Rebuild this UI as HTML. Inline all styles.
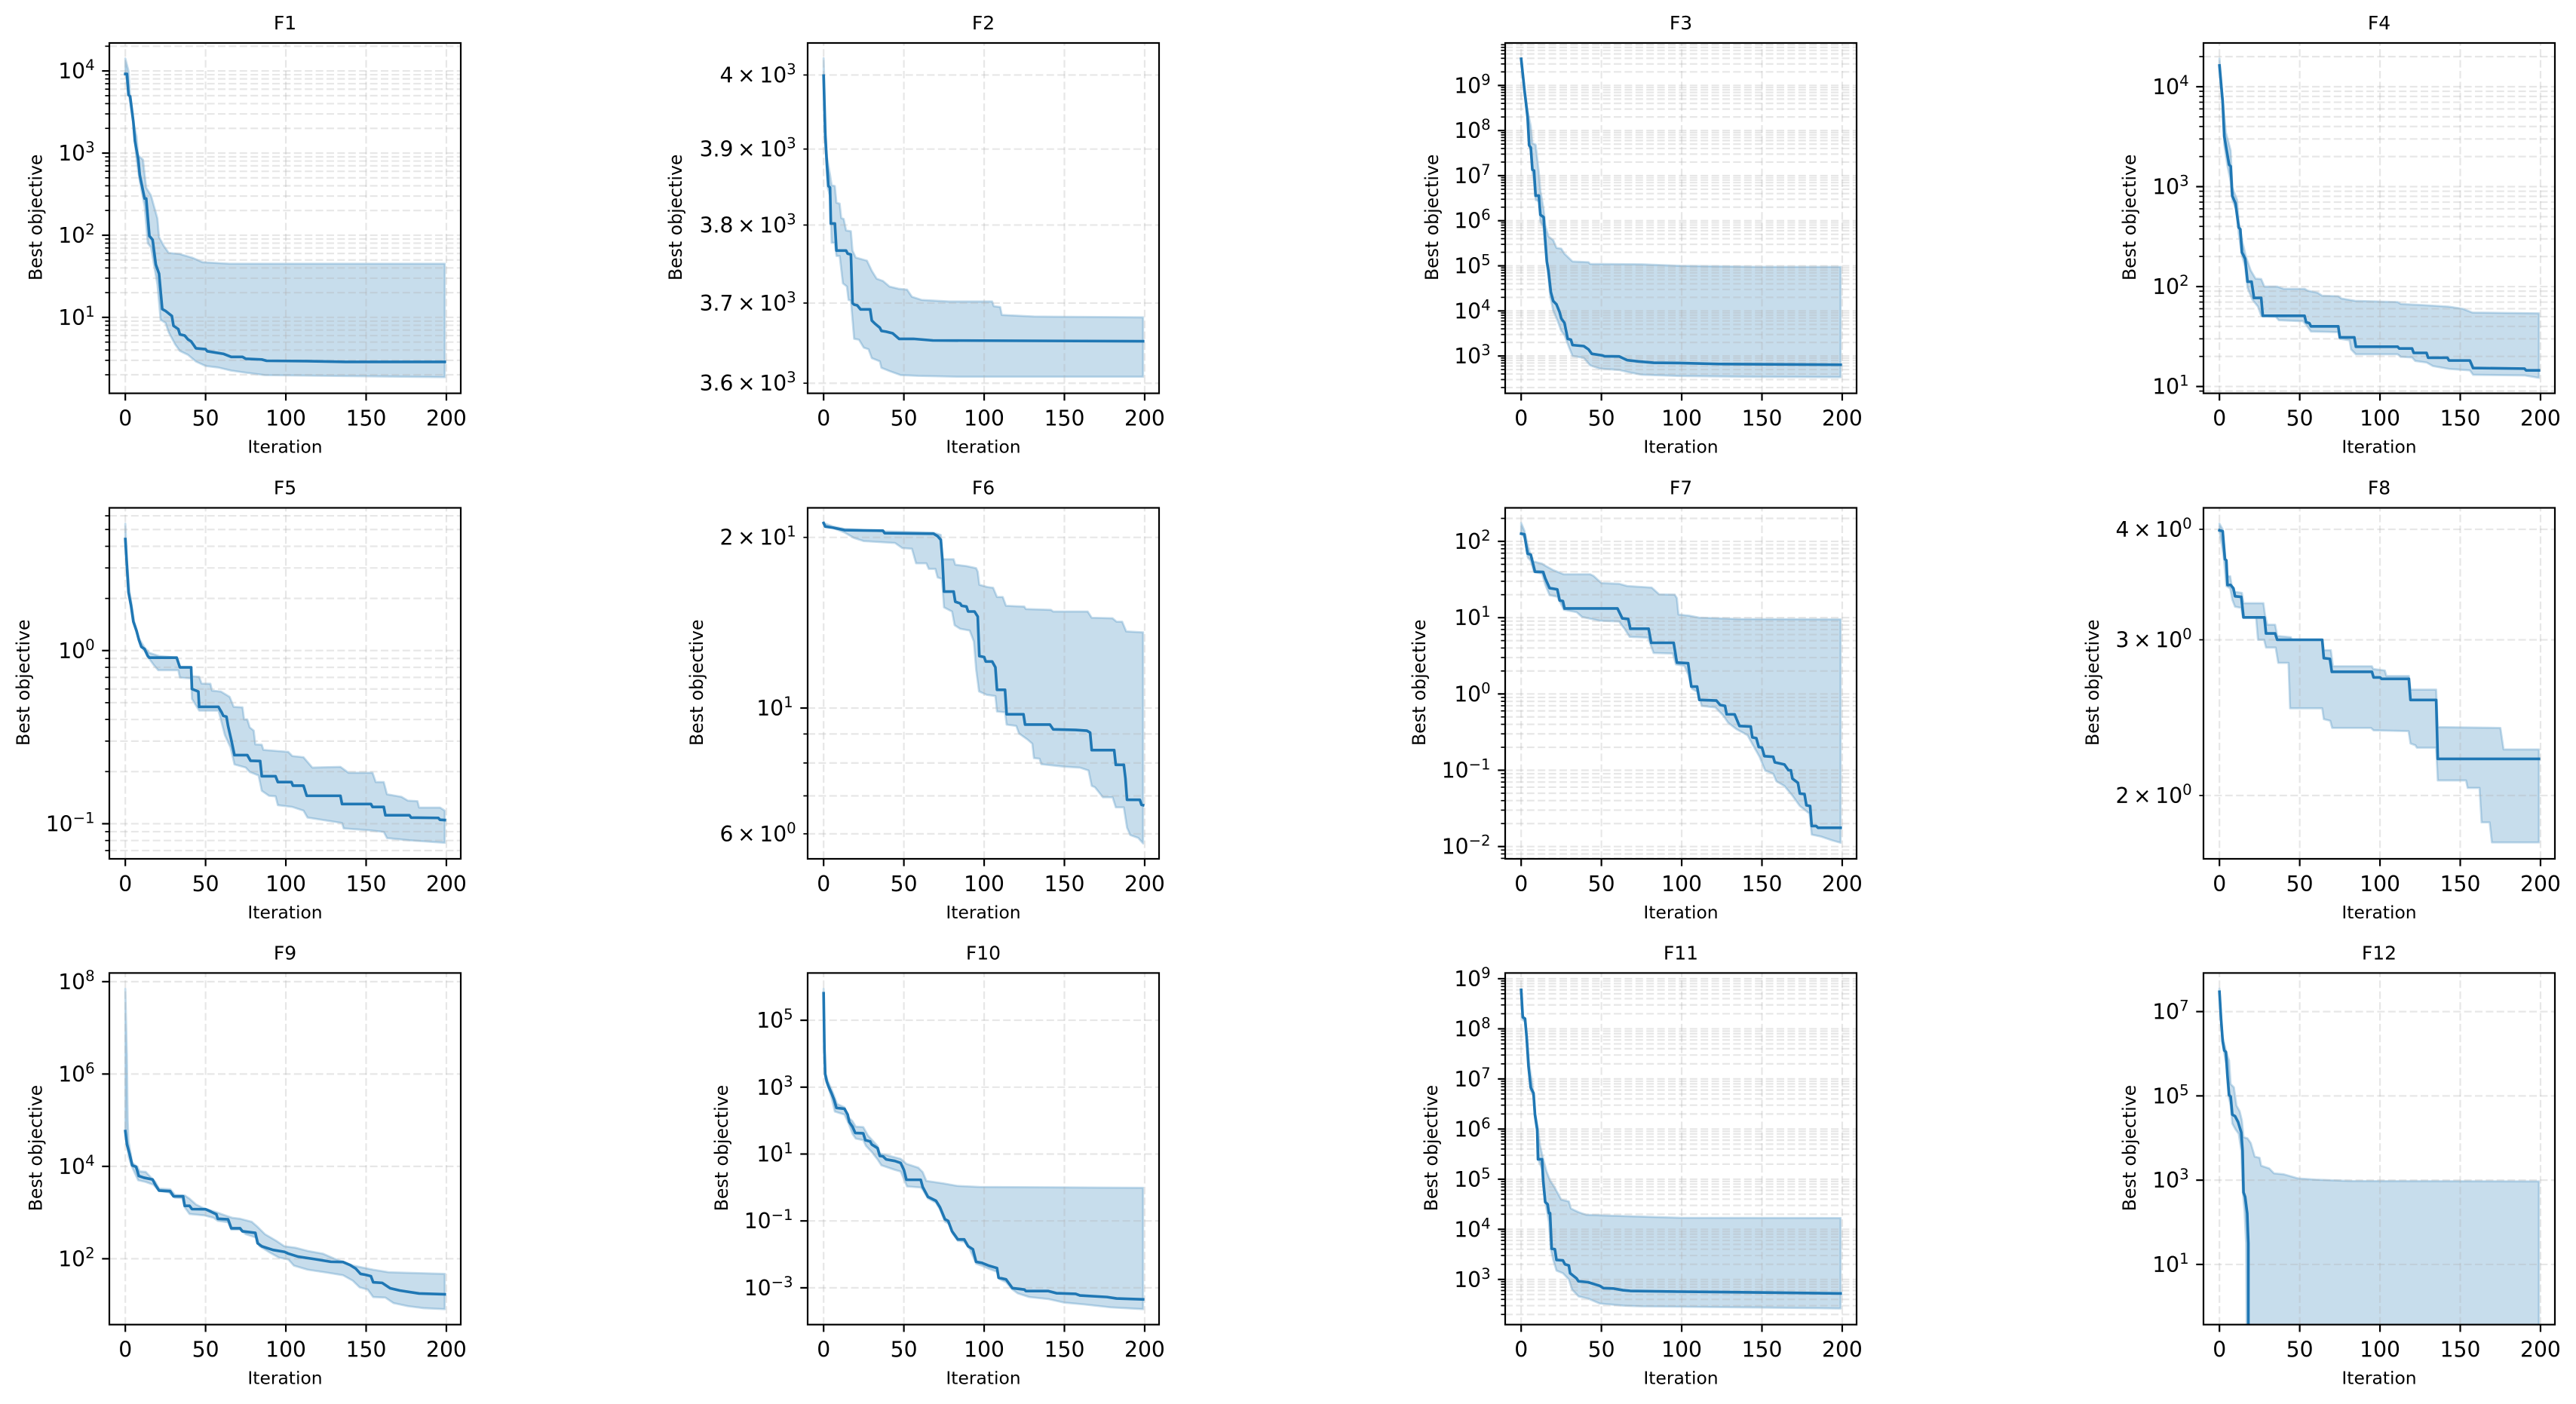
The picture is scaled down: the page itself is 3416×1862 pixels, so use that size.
<!DOCTYPE html>
<html lang="en">
<head>
<meta charset="utf-8">
<title>Convergence curves F1-F12</title>
<style>
html,body{margin:0;padding:0;background:#fff;}
svg{display:block;font-family:"DejaVu Sans","Liberation Sans",sans-serif;}
</style>
</head>
<body>
<svg id="figure" xmlns="http://www.w3.org/2000/svg" width="3416" height="1862" viewBox="0 0 3416 1862">
<rect x="0" y="0" width="3416" height="1862" fill="#ffffff"/>
</svg>
<script>
const xTickValues=[0,50,100,150,200];
const xTickLabels=['0','50','100','150','200'];
const panelTitles=['F1','F2','F3','F4','F5','F6','F7','F8','F9','F10','F11','F12'];

const f1YLim=[1.19,2.19e4];
const f1YTicks=[10,100,1000,10000];
const f1YTickLabels=['10^1','10^2','10^3','10^4'];
const f1MeanIter=[0,1,2,3,5,6,8,9,12,13,15,17,19,21,23,25,29,30,33,34,37,39,41,44,50,51,61,66,73,75,85,88,113,137,199];
const f1MeanVal=[9200,9200,5100,4900,2400,1400,850,540,280,280,98,88,44,34,12.6,12,10.4,7.9,7.2,6.2,6,5.4,5.1,4.2,4.1,3.87,3.6,3.3,3.3,3.13,3.07,2.96,2.93,2.87,2.87];
const f1UpperIter=[0,2,3,5,7,8,11,13,16,20,21,24,27,34,42,48,65,199];
const f1UpperVal=[14200,10000,5100,2400,1600,940,830,380,305,160,95,74,61,59,53,47,45,45];
const f1LowerIter=[0,2,5,7,9,12,14,16,20,22,25,27,31,34,39,44,50,58,66,75,87,199];
const f1LowerVal=[10000,5500,2300,830,450,227,80,71,25,9.3,8.6,6.6,4.7,3.9,3.5,2.9,2.56,2.45,2.25,2.12,1.98,1.87];

const f2YLim=[3587.6,4044];
const f2YTicks=[3600,3700,3800,3900,4000];
const f2YTickLabels=['3.6\u2009×\u200910^3','3.7\u2009×\u200910^3','3.8\u2009×\u200910^3','3.9\u2009×\u200910^3','4\u2009×\u200910^3'];
const f2MeanIter=[0,1,2,3,4,4.5,7,8,14,15,17,18,19,21,23,29,30,32,35,36,39,43,47,56,68,199];
const f2MeanVal=[3999,3919,3882,3851,3849,3802,3802,3767,3767,3763,3762,3700,3698,3697,3692,3692,3678,3674,3669,3665,3664,3662,3655,3655,3653,3652];
const f2UpperIter=[0,1,2,4,5,7,8,10,11,12.5,14,17,18,20,27,30,33,37,41,47,52,55,61,78,105,106,110,111,131,199];
const f2UpperVal=[4023,3944,3890,3866,3852,3851,3829,3828,3809,3808,3793,3792,3767,3758,3754,3741,3731,3728,3721,3718,3717,3708,3704,3702,3702,3696,3695,3685,3683,3682];
const f2LowerIter=[0,1,2.5,4,5,7,8,10,12,14.5,15.5,17,19,22,25,28,30,35,36,41,48,59,83,199];
const f2LowerVal=[3999,3910,3849,3838,3777,3777,3760,3760,3725,3721,3704,3703,3655,3654,3644,3642,3631,3627,3619,3615,3610,3609,3608,3608];

const f3YLim=[149,8.75e9];
const f3YTicks=[1e3,1e4,1e5,1e6,1e7,1e8,1e9];
const f3YTickLabels=['10^3','10^4','10^5','10^6','10^7','10^8','10^9'];
const f3MeanIter=[0,2,4,5,6,7,8,9,11,12,14,15,16,17,18.5,20,22,24,25,27,29,31,32,39,42,44,50.5,52,61,66,73,82.5,99,123,199];
const f3MeanVal=[3.9e9,8.3e8,2e8,4.7e7,4.2e7,1.35e7,1.3e7,3.6e6,3.6e6,1.35e6,1.2e6,3.7e5,1.25e5,7.8e4,2.6e4,1.66e4,1.4e4,9.3e3,6.8e3,5.4e3,2.4e3,2.3e3,1.75e3,1.66e3,1.4e3,1.12e3,1.03e3,990,980,810,760,710,700,665,640];
const f3UpperIter=[0,2,4,6,7,9,11,12,14,15,17,20,22,25,27,32,42,43,75,99,147,199];
const f3UpperVal=[4e9,9e8,2.8e8,1.26e8,5.2e7,4.9e7,1.2e7,4.6e6,1.8e6,8.1e5,4.5e5,3.7e5,2.5e5,2.4e5,1.85e5,1.25e5,1.2e5,1.1e5,1.08e5,1e5,9.5e4,9.5e4];
const f3LowerIter=[0,2,4,5,6,7,8,9,11,12,14,15,16,17,18,20,22.5,25,27,30,32,39,43,49,61,68,75,99,147,199];
const f3LowerVal=[3.9e9,7.5e8,1.9e8,4.5e7,3.6e7,1.2e7,7.4e6,2.9e6,2.7e6,9.6e5,7e5,2.7e5,1.07e5,5.7e4,2.2e4,1e4,6.3e3,3.6e3,2.9e3,1.5e3,1e3,910,620,525,490,430,385,360,345,340];

const f4YLim=[8.55,2.74e4];
const f4YTicks=[10,100,1000,10000];
const f4YTickLabels=['10^1','10^2','10^3','10^4'];
const f4MeanIter=[0,2,3,6,7,8,10,12,13,14,16,17.5,20,21.5,26,27,53,54,56,57,74,75,84,85,111,112,120,121,129,130,142,143,156,158,190,191,199];
const f4MeanVal=[16300,7100,3200,1660,1600,810,680,390,375,220,190,112,112,77,77,51,51,44,43,40,40,31,31,25,25,24,24,21.7,21.7,19.4,19.4,18.2,18.2,15.3,15.1,14.5,14.5];
const f4UpperIter=[0,2,4,7,8,11,12,14,16.5,19.5,22.5,26,28,36,40,53,55,61,64,74,76,84.5,111,113,129,142.5,151.5,157.5,199];
const f4UpperVal=[19200,7600,3500,2300,980,740,445,295,200,145,120,119,100,100,95,95,91,87,81,80,76,72,70,67,65,63,60,55,54];
const f4LowerIter=[0,2,3,5,7,8,11,12,14,16,17.5,20.5,24,26,35,37,52,54,57,74,75,81,82,85,111,113,120,122,129,133,143,156,158,190,199];
const f4LowerVal=[16000,6400,2600,1600,1120,740,555,340,205,158,97,74,63,51,50,46,45,41.5,35.5,35,30,29,23.5,21,21,19.8,19.5,18,17.4,16,15,14.5,13.1,12.9,12.2];

const f5YLim=[0.0627,6.67];
const f5YTicks=[0.1,1];
const f5YTickLabels=['10^\u22121','10^0'];
const f5MeanIter=[0,1,2,3.6,5,7,8.5,10,12,14,15,32,34,41,41.5,45.5,46,58,60,61,63,64,66,68,76,78,84,85,93.6,95,103.5,104.4,111,113,134,135,153,154,161,162,177,178,195,196,199];
const f5MeanVal=[4.4,3.08,2.17,1.81,1.47,1.3,1.15,1.05,1.02,0.93,0.91,0.91,0.8,0.8,0.6,0.58,0.473,0.473,0.44,0.42,0.415,0.367,0.305,0.249,0.249,0.231,0.23,0.188,0.188,0.174,0.174,0.166,0.166,0.145,0.145,0.13,0.13,0.125,0.125,0.112,0.112,0.1085,0.108,0.1054,0.105];
const f5UpperIter=[0,1,2.6,5.5,8.4,12,15,21,32,34,41,41.5,46,47.5,53,54,59.5,65,67.5,73,74,76,77.5,80,81,85,86,101.5,104,111,116.5,134,139,154,156,161,163,172,176,182,183,196,199];
const f5UpperVal=[5.4,3.34,2.22,1.47,1.18,1.04,0.97,0.93,0.91,0.8,0.8,0.71,0.705,0.645,0.643,0.587,0.58,0.54,0.473,0.47,0.4,0.4,0.36,0.345,0.287,0.286,0.267,0.26,0.246,0.242,0.211,0.213,0.197,0.197,0.174,0.174,0.148,0.143,0.136,0.135,0.124,0.124,0.119];
const f5LowerIter=[0,1.4,2.6,5.5,8,11.5,14,17.5,20.5,33,34,41,41.5,46,58,59.5,62,65.5,68,75,77.5,83,85,89.5,93.6,95,104,111,113.5,135,136,153,161,163,177,199];
const f5LowerVal=[4.3,2.84,2.04,1.41,1.18,1.02,0.92,0.83,0.77,0.77,0.698,0.69,0.526,0.45,0.45,0.4,0.325,0.276,0.22,0.211,0.199,0.19,0.155,0.145,0.144,0.128,0.125,0.119,0.1085,0.101,0.094,0.0914,0.0896,0.0826,0.0802,0.0776];

const f6YLim=[5.42,22.55];
const f6YTicks=[6,10,20];
const f6YTickLabels=['6\u2009×\u200910^0','10^1','2\u2009×\u200910^1'];
const f6YMinorTicks=[7,8,9];
const f6MeanIter=[0,1,6,13,37,38,68.5,71,73,74,75,81,82,85,86,89,90,94,96,97,100,101,105,107,108,113,114,124.5,125.5,141,143,157,164,166,167,181,182,187,188,189,197,198,199];
const f6MeanVal=[21.2,20.9,20.8,20.6,20.55,20.35,20.3,20.1,19.8,18.25,16.05,16.05,15.4,15.3,15.15,15.1,14.8,14.8,14.5,12.35,12.3,12.08,12.08,11.8,10.77,10.77,9.75,9.75,9.35,9.35,9.17,9.15,9.12,9.05,8.43,8.43,7.94,7.94,7.52,6.89,6.89,6.75,6.74];
const f6UpperIter=[0,6,13,37,68,73,74,81,82,89,95,96,97,102,105.6,108,111.6,113.6,125,126,141.6,143,164.5,167,180,182.5,186,188.5,199];
const f6UpperVal=[21.2,20.9,20.7,20.5,20.4,20.2,18.3,18.3,17.9,17.8,17.65,17.4,16.5,16.35,16.3,15.7,15.7,15.15,15.1,14.95,14.9,14.8,14.8,14.43,14.4,14.2,14.2,13.65,13.6];
const f6LowerIter=[0,3.6,13,19,25,44.5,49,55,57.6,64,65.5,69.6,71,73.7,75,77,80,81.6,85,91,93.6,95,96.8,101.6,107,108,113,114,120,121.7,127,130,131,134.5,135.6,150,159.7,165,167,169,174,180,182,187,189,191,196,199];
const f6LowerVal=[21.1,20.9,20.4,19.95,19.7,19.55,19.15,19.1,18,18,17.6,17.6,17,16.9,15.05,14.95,14.8,14,13.8,13.7,13.1,11.7,10.7,10.55,10.5,9.86,9.83,9.35,9.3,9.02,8.8,8.65,8.16,8.14,7.96,7.88,7.85,7.76,7.29,7.25,6.96,6.96,6.68,6.68,6.15,5.97,5.9,5.77];

const f7YLim=[0.0069,275];
const f7YTicks=[0.01,0.1,1,10,100];
const f7YTickLabels=['10^\u22122','10^\u22121','10^0','10^1','10^2'];
const f7MeanIter=[0,2,4,6,8.6,13.7,15,17.7,22.5,24,26,27,60,63,66.7,68,79.4,81,95,97,104,106,109.6,111,121.6,124,127,128,133,136,143,144,146.5,148,150,151.5,157,158,164,166.5,168,169,172.4,173.6,176.5,177.7,180,181,183.7,185,199];
const f7MeanVal=[126,124,69,67,40,39.7,32.8,24.4,23.5,16.8,16.5,13.2,13.2,9.8,9.6,7.16,7.16,4.68,4.68,2.58,2.53,1.25,1.25,0.837,0.82,0.716,0.697,0.542,0.54,0.38,0.374,0.27,0.263,0.202,0.198,0.153,0.15,0.127,0.119,0.1,0.1,0.0776,0.0684,0.0494,0.0488,0.0347,0.034,0.0186,0.0186,0.0176,0.0176];
const f7UpperIter=[0,2,4,7,13,15,20,26.6,43,45,50,61,66,81.3,86,95.7,97,98,105,111,135,199];
const f7UpperVal=[175,138,91,55,51,48,42,37,37,35.4,28.4,27.8,26,24.8,20.2,20,18,11,10.6,10,9.6,9.5];
const f7LowerIter=[0,2.6,4,6,8,13,15,17.7,22.5,24.5,26.6,34.5,38,49,61,64.5,67.6,79,82.5,94.5,96.4,101.7,104,106.5,110,112.5,121,125.7,129,134,141,145,148.5,152,157,159,164,168.8,173.6,179.6,181,186.8,194,199];
const f7LowerVal=[125,110,63,55,39.6,37.8,27.2,19.7,18.8,15.6,12.7,11.8,10.2,9.1,8.9,7.1,5.6,5.47,3.44,3.39,2.44,2.33,1.81,1.16,1.06,0.697,0.665,0.527,0.418,0.347,0.288,0.202,0.15,0.099,0.09,0.0716,0.0622,0.047,0.034,0.027,0.01435,0.0135,0.012,0.0112];

const f8YLim=[1.696,4.23];
const f8YTicks=[2,3,4];
const f8YTickLabels=['2\u2009×\u200910^0','3\u2009×\u200910^0','4\u2009×\u200910^0'];
const f8MeanIter=[0,2,3.4,4.3,5,7,8.7,9.7,13.6,15,28,29,34.7,36,64,65,68.8,70,95,96,100,101,118,119,135,136,199];
const f8MeanVal=[3.99,3.98,3.7,3.69,3.46,3.46,3.43,3.36,3.355,3.18,3.18,3.05,3.05,3,3,2.86,2.855,2.76,2.76,2.72,2.72,2.71,2.71,2.565,2.565,2.2,2.2];
const f8UpperIter=[0,2,3.4,4.7,6.7,7.7,9,14,15,27.4,28.4,29.8,34.7,36,44.5,45,64,65,69.4,70.7,95,95.8,103,104,118,119,135,136,175,177,199];
const f8UpperVal=[4.06,4,3.76,3.54,3.54,3.45,3.4,3.39,3.3,3.3,3.2,3.12,3.12,3.03,3.02,3,3,2.92,2.92,2.8,2.8,2.78,2.77,2.73,2.73,2.635,2.635,2.39,2.385,2.255,2.255];
const f8LowerIter=[0,1.4,2.8,4.3,6.7,8,9.7,13.6,14.6,22.8,24,27.8,29,35,36.6,43,44,64,65,69,70.2,94.4,96,117.8,119,122,123,135,136,153.6,154.6,162,163.3,168.3,169.7,199];
const f8LowerVal=[3.98,3.85,3.7,3.45,3.43,3.33,3.27,3.26,3.18,3.18,3,3,2.94,2.94,2.825,2.825,2.51,2.51,2.44,2.43,2.385,2.385,2.37,2.365,2.29,2.28,2.265,2.265,2.08,2.08,2.04,2.04,1.865,1.865,1.77,1.77];

const f9YLim=[3.75,1.54e8];
const f9YTicks=[1e2,1e4,1e6,1e8];
const f9YTickLabels=['10^2','10^4','10^6','10^8'];
const f9MeanIter=[0,1,2.6,4.3,6.7,8.4,11.5,17,18.7,21,28,30,36,37,40,41.5,50,53.5,56.7,57.6,64,66,71.5,73,81,82.4,85,92,99.2,101.6,107.6,118,128,135.6,140,143.6,146.5,149.6,153,154.4,160,165,171,183,199];
const f9MeanVal=[5.8e4,3e4,1.9e4,1.05e4,9800,6200,5700,5200,4000,3000,2900,2250,2250,1400,1400,1190,1180,1040,920,736,715,457,457,393,363,217,186,155,141,129,111,98,86,85,73,61,47,45,42,31,30,23,20.5,17.7,17];
const f9UpperIter=[0,1,1.5,2,4.3,7.4,9,12.7,18.7,21,28,31,37,40,44,49,56,63,66.7,71.5,78.8,82.4,87,94,99,106,113.6,123,130.4,142,154.4,164,199];
const f9UpperVal=[7e7,2.6e6,9.8e4,3.5e4,1.2e4,9800,7800,7600,4600,3300,3200,2400,2350,2000,1500,1230,1040,850,770,735,630,490,340,245,187,173,148,129,100,71,58,51,47];
const f9LowerIter=[0,1,2,4,8,12.7,17.5,21,27,31,35.5,37,40,49,55,57.6,64,66,71.5,75,82,83.6,89.6,95.6,101.6,105,113.6,125.6,135.6,141.7,146,151,154.4,162,167,176,186,199];
const f9LowerVal=[5.7e4,3e4,1.64e4,1e4,5000,4600,4000,2950,2750,2100,2050,1300,930,870,770,660,615,425,425,340,283,187,139,106,96,71,58,50,44,33.5,24,21.5,14.8,14.4,11,9.4,8.5,8.1];

const f10YLim=[7.94e-5,2.59e6];
const f10YTicks=[1e-3,1e-1,1e1,1e3,1e5];
const f10YTickLabels=['10^\u22123','10^\u22121','10^1','10^3','10^5'];
const f10MeanIter=[0,0.5,1,2,3,5,6.5,8,13,15,16,18,19.7,24.7,26,29,30,33.6,35,37,39,44.4,48,50,51.6,60.5,61.7,65,70,72.5,75.6,77.6,80,83.6,87.6,90,93,95,98.4,103,108,109,113.6,117.6,125,126,140,145,157,159.7,176.5,182.5,199];
const f10MeanVal=[6.4e5,1.4e4,2450,1470,1070,645,425,240,225,151,91,66,42.6,41.7,26,23.8,19.3,15,8.8,8.5,6.9,6.2,5.4,3.36,1.7,1.7,1.04,0.525,0.4,0.255,0.112,0.1,0.049,0.028,0.028,0.0175,0.01426,0.006,0.0056,0.00457,0.0039,0.002,0.0018,0.00098,0.00089,0.0008,0.0008,0.00069,0.00066,0.00059,0.00053,0.00048,0.00045];
const f10UpperIter=[0,0.5,1,2.4,3.6,6,8.4,13,15.6,18,20,24.7,27.6,33.6,35,41,48,51.6,59,61.7,64,74.4,83,97,199];
const f10UpperVal=[8.7e5,1.74e4,2700,1600,1200,645,315,250,123,96,66,64,36,17.4,10.5,8.8,7.2,5.1,3.9,2.9,1.57,1.33,1.12,1.04,0.975];
const f10LowerIter=[0,0.5,1,2.4,5,7,13,15.6,18,20,24.7,26.4,30,33.6,36,44.4,48,50.4,52,60.5,61.7,65,70,72.5,75.6,78,80.4,83.6,87.6,91,95,98.4,103,108,109.7,113.6,117.6,121,128,140,150,162,179,199];
const f10LowerVal=[6.4e5,9300,1800,1200,470,186,151,81,40,29,26,17.4,11.5,6.9,4.6,3.36,3,1.62,1.07,1,0.87,0.47,0.35,0.22,0.095,0.082,0.0417,0.0254,0.024,0.01426,0.0053,0.0046,0.0037,0.003,0.0018,0.00148,0.00089,0.00068,0.00053,0.00046,0.00036,0.00032,0.00026,0.00023];

const f11YLim=[125.5,1.3e9];
const f11YTicks=[1e3,1e4,1e5,1e6,1e7,1e8,1e9];
const f11YTickLabels=['10^3','10^4','10^5','10^6','10^7','10^8','10^9'];
const f11MeanIter=[0,1,2.4,3.4,4.6,6,7.7,8.6,10,10.5,13,13.7,15,16.5,17.3,18,19,21,22,26,27.3,29.7,30.5,34.5,35.7,41.7,49,51.3,57.3,63.3,68,99,147,199];
const f11MeanVal=[6e8,1.7e8,1.6e8,6.9e7,1.76e7,6.7e6,5.2e6,1.95e6,9.8e5,2.5e5,2.5e5,9.6e4,3.5e4,3.15e4,2.1e4,2.1e4,4100,4000,2450,2400,2000,1900,1330,1050,920,880,745,670,660,610,590,570,550,525];
const f11UpperIter=[0,1,2.6,3.8,5,7,8.6,10.5,11.7,13.4,15.8,18,21,25,29.7,31,35.7,40.5,61,99,199];
const f11UpperVal=[6e8,1.8e8,1.6e8,6e7,2e7,7.7e6,2.2e6,9.8e5,4.9e5,2.8e5,1.43e5,9.5e4,6.7e4,3.9e4,3.6e4,2.6e4,2.2e4,1.95e4,1.85e4,1.7e4,1.68e4];
const f11LowerIter=[0,1,2.4,3.8,4.8,6,7.7,8.6,10,11,13,14,15.4,17.3,18.5,20,22,26,29.7,31.7,35.7,41.7,49,63.3,75,147,199];
const f11LowerVal=[5.8e8,1.5e8,1.4e8,5.3e7,1.53e7,5.9e6,4.5e6,1.7e6,8.5e5,2.3e5,1.6e5,6.3e4,2.95e4,1.4e4,4000,2450,1500,1330,1000,630,460,415,330,300,290,275,263];

const f12YLim=[0.3736,8.24e7];
const f12YTicks=[10,1e3,1e5,1e7];
const f12YTickLabels=['10^1','10^3','10^5','10^7'];
const f12MeanIter=[0,1,2,3,4,5,6,7,8,9.7,11.6,13.6,14.4,15,16,17.3,18,18];
const f12MeanVal=[2.95e7,6.7e6,2e6,1.2e6,1.1e6,3e5,1.05e5,9.6e4,3.6e4,3.3e4,2.4e4,1.35e4,5000,513,400,163,32,0.1];
const f12UpperIter=[0,1,2,4,6,7,9,10.6,12.6,14,15,17.5,19.5,22,25,26,31,34,40,49,60,81.6,199];
const f12UpperVal=[3.5e7,6.9e6,2.5e6,1.2e6,6.9e5,1.9e5,1.6e5,5.9e4,4.3e4,2.6e4,1.05e4,9800,7600,3600,3400,2200,1900,1450,1380,1100,1030,955,935];
const f12LowerIter=[0,1,2,3,4.3,5.7,7,8,10,12,13.6,14.6,15.6,16.6,17,199];
const f12LowerVal=[2.9e7,5.7e6,1.8e6,1e6,5.7e5,9.6e4,5.9e4,2.2e4,1.6e4,1.26e4,5000,510,190,32,0.1,0.1];

const NS='http://www.w3.org/2000/svg';
const figure=document.getElementById('figure');
const columnLefts=[145,1071,1996,2922];
const rowTops=[57,673.5,1290.4];
const rowHeights=[464.6,465.5,466.3];
const axisWidth=466;
const xDomain=[-9.95,208.95];
const blue='#1f77b4';

function logMinors(loDecade,hiDecade){
  const out=[];
  for(let d=loDecade;d<=hiDecade;d++){
    for(let m=2;m<=9;m++){out.push(m*Math.pow(10,d));}
  }
  return out;
}

const panels=[
 {col:0,row:0,yLim:f1YLim,ticks:f1YTicks,labels:f1YTickLabels,minor:logMinors(0,4),meanX:f1MeanIter,meanY:f1MeanVal,upX:f1UpperIter,upY:f1UpperVal,loX:f1LowerIter,loY:f1LowerVal,labelX:55.5},
 {col:1,row:0,yLim:f2YLim,ticks:f2YTicks,labels:f2YTickLabels,minor:[],meanX:f2MeanIter,meanY:f2MeanVal,upX:f2UpperIter,upY:f2UpperVal,loX:f2LowerIter,loY:f2LowerVal,labelX:904},
 {col:2,row:0,yLim:f3YLim,ticks:f3YTicks,labels:f3YTickLabels,minor:logMinors(2,9),meanX:f3MeanIter,meanY:f3MeanVal,upX:f3UpperIter,upY:f3UpperVal,loX:f3LowerIter,loY:f3LowerVal,labelX:1907},
 {col:3,row:0,yLim:f4YLim,ticks:f4YTicks,labels:f4YTickLabels,minor:logMinors(0,4),meanX:f4MeanIter,meanY:f4MeanVal,upX:f4UpperIter,upY:f4UpperVal,loX:f4LowerIter,loY:f4LowerVal,labelX:2832},
 {col:0,row:1,yLim:f5YLim,ticks:f5YTicks,labels:f5YTickLabels,minor:logMinors(-2,0),meanX:f5MeanIter,meanY:f5MeanVal,upX:f5UpperIter,upY:f5UpperVal,loX:f5LowerIter,loY:f5LowerVal,labelX:39},
 {col:1,row:1,yLim:f6YLim,ticks:f6YTicks,labels:f6YTickLabels,minor:f6YMinorTicks,meanX:f6MeanIter,meanY:f6MeanVal,upX:f6UpperIter,upY:f6UpperVal,loX:f6LowerIter,loY:f6LowerVal,labelX:932},
 {col:2,row:1,yLim:f7YLim,ticks:f7YTicks,labels:f7YTickLabels,minor:logMinors(-3,2),meanX:f7MeanIter,meanY:f7MeanVal,upX:f7UpperIter,upY:f7UpperVal,loX:f7LowerIter,loY:f7LowerVal,labelX:1890},
 {col:3,row:1,yLim:f8YLim,ticks:f8YTicks,labels:f8YTickLabels,minor:[],meanX:f8MeanIter,meanY:f8MeanVal,upX:f8UpperIter,upY:f8UpperVal,loX:f8LowerIter,loY:f8LowerVal,labelX:2783},
 {col:0,row:2,yLim:f9YLim,ticks:f9YTicks,labels:f9YTickLabels,minor:[],meanX:f9MeanIter,meanY:f9MeanVal,upX:f9UpperIter,upY:f9UpperVal,loX:f9LowerIter,loY:f9LowerVal,labelX:55.5},
 {col:1,row:2,yLim:f10YLim,ticks:f10YTicks,labels:f10YTickLabels,minor:[],meanX:f10MeanIter,meanY:f10MeanVal,upX:f10UpperIter,upY:f10UpperVal,loX:f10LowerIter,loY:f10LowerVal,labelX:965},
 {col:2,row:2,yLim:f11YLim,ticks:f11YTicks,labels:f11YTickLabels,minor:logMinors(2,9),meanX:f11MeanIter,meanY:f11MeanVal,upX:f11UpperIter,upY:f11UpperVal,loX:f11LowerIter,loY:f11LowerVal,labelX:1906},
 {col:3,row:2,yLim:f12YLim,ticks:f12YTicks,labels:f12YTickLabels,minor:[],meanX:f12MeanIter,meanY:f12MeanVal,upX:f12UpperIter,upY:f12UpperVal,loX:f12LowerIter,loY:f12LowerVal,labelX:2832}
];

function mk(tag,attrs,parent){
  const el=document.createElementNS(NS,tag);
  for(const k in attrs){el.setAttribute(k,attrs[k]);}
  parent.appendChild(el);
  return el;
}
function tracePoints(xs,ys,sx,sy){
  const pts=[];
  const n=Math.min(xs.length,ys.length);
  for(let i=0;i<n;i++){pts.push(sx(xs[i]).toFixed(2)+','+sy(ys[i]).toFixed(2));}
  return pts;
}

panels.forEach(function(p,idx){
  const left=columnLefts[p.col];
  const top=rowTops[p.row];
  const h=rowHeights[p.row];
  const right=left+axisWidth;
  const bottom=top+h;
  const logMin=Math.log10(p.yLim[0]);
  const logMax=Math.log10(p.yLim[1]);
  const sx=function(v){return left+(v-xDomain[0])/(xDomain[1]-xDomain[0])*axisWidth;};
  const sy=function(v){return top+(logMax-Math.log10(v))/(logMax-logMin)*h;};
  const isPower=function(v){const l=Math.log10(v);return Math.abs(l-Math.round(l))<1e-9;};

  const g=mk('g',{},figure);
  
  

  const clip=mk('clipPath',{id:'clip'+idx},g);
  mk('rect',{x:left,y:top,width:axisWidth,height:h},clip);

  const band=mk('polygon',{
    points:tracePoints(p.upX,p.upY,sx,sy).concat(tracePoints(p.loX,p.loY,sx,sy).reverse()).join(' '),
    fill:blue,'fill-opacity':0.25,stroke:blue,'stroke-opacity':0.25,'stroke-width':2.8,'stroke-linejoin':'round','clip-path':'url(#clip'+idx+')'
  },g);
  
  

  const gridGroup=mk('g',{stroke:'#b0b0b0','stroke-opacity':0.3,'stroke-width':2.2,'stroke-dasharray':'10 4.4','clip-path':'url(#clip'+idx+')'},g);
  
  
  xTickValues.forEach(function(v){
    const line=mk('line',{x1:sx(v),x2:sx(v),y1:bottom,y2:top},gridGroup);
    
    
  });
  p.ticks.concat(p.minor).forEach(function(v){
    if(v<p.yLim[0]||v>p.yLim[1]){return;}
    const line=mk('line',{x1:left,x2:right,y1:sy(v),y2:sy(v)},gridGroup);
    
    
  });

  const meanLine=mk('polyline',{
    points:tracePoints(p.meanX,p.meanY,sx,sy).join(' '),
    fill:'none',stroke:blue,'stroke-width':3.6,'stroke-linejoin':'round','stroke-linecap':'square','clip-path':'url(#clip'+idx+')'
  },g);
  
  

  xTickValues.forEach(function(v,i){
    const tick=mk('line',{x1:sx(v),x2:sx(v),y1:bottom,y2:bottom+9.7,stroke:'#000','stroke-width':2.2},g);
    
    
    const label=mk('text',{x:sx(v),y:bottom+43,'text-anchor':'middle','font-size':28.2,fill:'#000'},g);
    label.textContent=xTickLabels[i];
    
    
  });

  p.minor.forEach(function(v){
    if(v<p.yLim[0]||v>p.yLim[1]){return;}
    const tick=mk('line',{x1:left-5.6,x2:left,y1:sy(v),y2:sy(v),stroke:'#000','stroke-width':1.7},g);
    
    
  });

  p.ticks.forEach(function(v,i){
    const power=isPower(v);
    const len=power?9.7:5.6;
    const tick=mk('line',{x1:left-len,x2:left,y1:sy(v),y2:sy(v),stroke:'#000','stroke-width':power?2.2:1.7},g);
    
    
    const parts=p.labels[i].split('^');
    const label=mk('text',{x:left-len-9.7,y:sy(v)+10,'text-anchor':'end','font-size':28.2,fill:'#000'},g);
    
    
    label.appendChild(document.createTextNode(parts[0]));
    const sup=mk('tspan',{dy:-11,'font-size':19.7},label);
    sup.textContent=parts[1];
  });

  const border=mk('rect',{x:left,y:top,width:axisWidth,height:h,fill:'none',stroke:'#000','stroke-width':2.2},g);
  
  

  const title=mk('text',{x:left+axisWidth/2,y:top-18,'text-anchor':'middle','font-size':25,fill:'#000'},g);
  title.textContent=panelTitles[idx];
  
  

  const xLabel=mk('text',{x:left+axisWidth/2,y:bottom+79,'text-anchor':'middle','font-size':23.4,fill:'#000'},g);
  xLabel.textContent='Iteration';
  
  

  const cy=top+h/2-1;
  const yLabel=mk('text',{x:p.labelX,y:cy,'text-anchor':'middle','font-size':23.6,fill:'#000',transform:'rotate(-90 '+p.labelX+' '+cy+')'},g);
  yLabel.textContent='Best objective';
  
  
});
</script>
</body>
</html>
